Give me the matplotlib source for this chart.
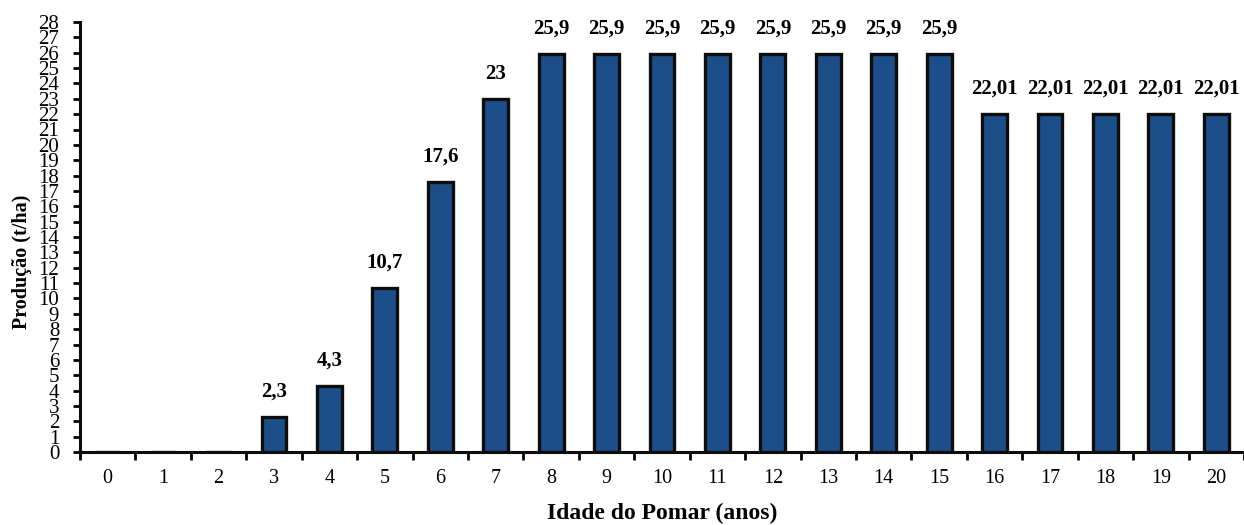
import matplotlib
matplotlib.use("Agg")
import matplotlib.pyplot as plt
import numpy as np

# Pomar age (years) and production (t/ha)
idades = list(range(21))
producao = [0, 0, 0, 2.3, 4.3, 10.7, 17.6, 23, 25.9, 25.9, 25.9, 25.9, 25.9,
            25.9, 25.9, 25.9, 22.01, 22.01, 22.01, 22.01, 22.01]
rotulos = ["", "", "", "2,3", "4,3", "10,7", "17,6", "23", "25,9", "25,9",
           "25,9", "25,9", "25,9", "25,9", "25,9", "25,9", "22,01", "22,01",
           "22,01", "22,01", "22,01"]
yticks = list(range(29))

plt.rcParams["font.family"] = ["Liberation Serif", "DejaVu Serif"]

fig = plt.figure(figsize=(12.44, 5.25), dpi=100)
ax = fig.add_axes([80 / 1244, 73 / 525, 1 - 80 / 1244, (452 - 22) / 525])

x = np.array(idades) + 0.5
ax.bar(x, producao, width=0.45, color="#1c4f8a", edgecolor="#0d0d0d",
       linewidth=2.4, zorder=3)

for xi, v, lab in zip(x, producao, rotulos):
    if lab:
        ax.annotate(lab, (xi, v), xytext=(0, 11), textcoords="offset points",
                    ha="center", va="bottom", fontsize=15, fontweight="bold")

ax.set_xlim(0, 21)
ax.set_ylim(0, 28)
ax.set_xticks(np.arange(0, 22))
ax.set_xticklabels([])
ax.set_xticks(x, minor=True)
ax.set_xticklabels([str(i) for i in idades], minor=True, fontsize=14.5)
ax.tick_params(axis="x", which="major", direction="out", length=6, width=2)
ax.tick_params(axis="x", which="minor", length=0, pad=12)

ax.set_yticks(yticks)
ax.set_yticklabels([str(t) for t in yticks], fontsize=15)
ax.tick_params(axis="y", direction="out", length=5, width=2, pad=10)

for s in ("top", "right"):
    ax.spines[s].set_visible(False)
for s in ("left", "bottom"):
    ax.spines[s].set_linewidth(2.2)
    ax.spines[s].set_color("#0d0d0d")

fig.text(22 / 1244, 1 - 262 / 525, "Produção (t/ha)", rotation=90,
         ha="center", va="center", fontsize=14.5, fontweight="bold")
fig.text(662 / 1244, 1 - 513 / 525, "Idade do Pomar (anos)",
         ha="center", va="center", fontsize=17, fontweight="bold")

fig.savefig("out.png", dpi=100)
